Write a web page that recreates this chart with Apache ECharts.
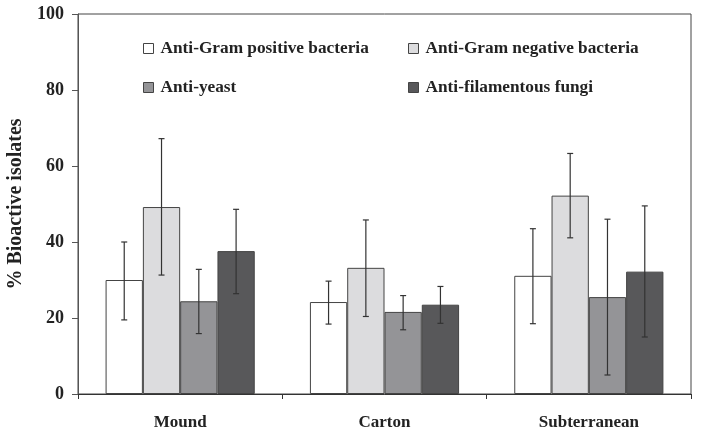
<!DOCTYPE html>
<html><head><meta charset="utf-8">
<script src="https://cdn.jsdelivr.net/npm/echarts@6/dist/echarts.min.js"></script>
<style>html,body{margin:0;padding:0;background:#fff}#c{width:702px;height:437px}</style>
</head><body><div id="c"></div>
<script>
var categories = ['Mound', 'Carton', 'Subterranean'];
var seriesNames = ['Anti-Gram positive bacteria', 'Anti-Gram negative bacteria', 'Anti-yeast', 'Anti-filamentous fungi'];
var gramPos = [30.0, 24.2, 31.1];
var gramPosLow = [19.5, 18.4, 18.5];
var gramPosHigh = [40.0, 29.7, 43.5];
var gramNeg = [49.2, 33.2, 52.2];
var gramNegLow = [31.3, 20.4, 41.1];
var gramNegHigh = [67.2, 45.8, 63.3];
var yeast = [24.4, 21.6, 25.5];
var yeastLow = [15.9, 16.9, 5.0];
var yeastHigh = [32.8, 25.9, 46.0];
var fungi = [37.6, 23.5, 32.2];
var fungiLow = [26.4, 18.6, 15.0];
var fungiHigh = [48.6, 28.3, 49.5];
var yTicks = [0, 20, 40, 60, 80, 100];

var values = [gramPos, gramNeg, yeast, fungi];
var lows = [gramPosLow, gramNegLow, yeastLow, fungiLow];
var highs = [gramPosHigh, gramNegHigh, yeastHigh, fungiHigh];
var colors = ['#ffffff', '#dcdcde', '#949497', '#58585a'];
var gapPct = 0.27;
var font = 'Liberation Serif';

var chart = echarts.init(document.getElementById('c'));
var series = [];
values.forEach(function (v, i) {
  series.push({
    name: seriesNames[i], type: 'bar', data: v, barGap: 0, barCategoryGap: (gapPct * 100) + '%',
    itemStyle: { color: colors[i], borderColor: '#444', borderWidth: 1 },
    emphasis: { disabled: true }
  });
});
values.forEach(function (v, i) {
  var data = categories.map(function (c, k) { return [k, lows[i][k], highs[i][k]]; });
  series.push({
    type: 'custom', z: 10, silent: true,
    data: data,
    renderItem: function (params, api) {
      var k = api.value(0);
      var lo = api.coord([k, api.value(1)]);
      var hi = api.coord([k, api.value(2)]);
      var band = api.size([1, 0])[0];
      var bw = band * (1 - gapPct) / 4;
      var x = lo[0] + (i - 1.5) * bw;
      var cap = 3;
      var st = { stroke: '#333', lineWidth: 1.2 };
      return { type: 'group', children: [
        { type: 'line', shape: { x1: x, y1: lo[1], x2: x, y2: hi[1] }, style: st },
        { type: 'line', shape: { x1: x - cap, y1: lo[1], x2: x + cap, y2: lo[1] }, style: st },
        { type: 'line', shape: { x1: x - cap, y1: hi[1], x2: x + cap, y2: hi[1] }, style: st }
      ]};
    }
  });
});

var legendPos = [[143, 40], [408, 40], [143, 79], [408, 79]];
var legends = seriesNames.map(function (n, i) {
  return {
    data: [n], left: legendPos[i][0], top: legendPos[i][1], icon: 'rect',
    itemWidth: 10, itemHeight: 10, itemGap: 0, padding: 0,
    selectedMode: false,
    itemStyle: { borderColor: '#444', borderWidth: 1 },
    textStyle: { fontFamily: font, fontWeight: 'bold', fontSize: 17.3, color: '#222', padding: [0, 0, 0, 2] }
  };
});

chart.setOption({
  animation: false,
  backgroundColor: '#fff',
  grid: { left: 78, right: 11, top: 14, bottom: 43, show: true, borderColor: '#444', borderWidth: 1,
    outerBoundsMode: 'none', containLabel: false },
  legend: legends,
  xAxis: {
    type: 'category', data: categories,
    axisLine: { lineStyle: { color: '#333', width: 1 } },
    axisTick: { show: true, length: 5, lineStyle: { color: '#333' } },
    axisLabel: { fontFamily: font, fontWeight: 'bold', fontSize: 17, color: '#222', margin: 20 }
  },
  yAxis: {
    type: 'value', min: 0, max: 100, interval: 20,
    name: '% Bioactive isolates', nameLocation: 'middle', nameGap: 47, nameRotate: 90,
    nameTextStyle: { fontFamily: font, fontWeight: 'bold', fontSize: 20, color: '#222' },
    axisLine: { show: true, lineStyle: { color: '#555', width: 1 } },
    axisTick: { show: true, length: 6, lineStyle: { color: '#555' } },
    splitLine: { show: false },
    axisLabel: { fontFamily: font, fontWeight: 'bold', fontSize: 18, color: '#222', margin: 14,
      formatter: function (v) { return yTicks.indexOf(v) >= 0 ? String(v) : ''; } }
  },
  series: series
});
</script></body></html>
